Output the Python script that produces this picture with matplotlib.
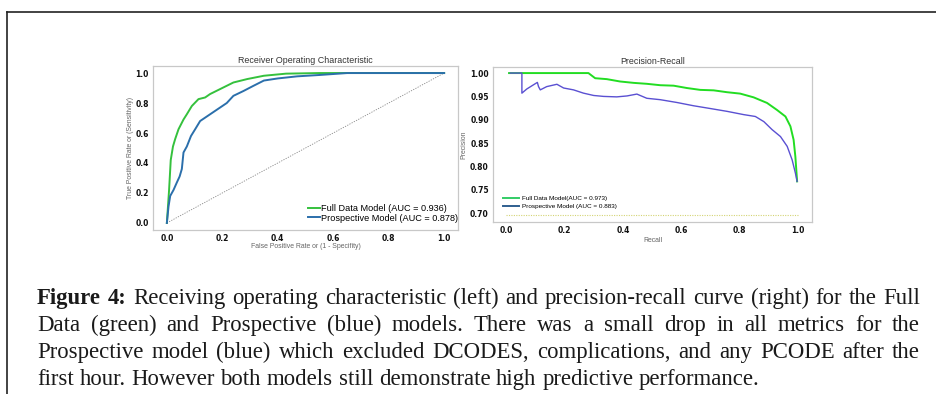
import matplotlib
matplotlib.use("Agg")
import matplotlib.pyplot as plt
from matplotlib.lines import Line2D
from matplotlib import font_manager

# ---------------- data ----------------
roc_full_fpr = [0.0, 0.004, 0.008, 0.014, 0.022, 0.030, 0.042, 0.060, 0.072, 0.090, 0.114,
                0.138, 0.156, 0.192, 0.240, 0.290, 0.350, 0.430, 0.550, 1.0]
roc_full_tpr = [0.0, 0.11, 0.22, 0.42, 0.51, 0.56, 0.625, 0.69, 0.725, 0.78, 0.826,
                0.837, 0.86, 0.893, 0.937, 0.96, 0.982, 0.996, 1.0, 1.0]

roc_prosp_fpr = [0.0, 0.006, 0.012, 0.024, 0.036, 0.046, 0.054, 0.060, 0.072, 0.087, 0.102,
                 0.120, 0.156, 0.192, 0.216, 0.240, 0.276, 0.3125, 0.350, 0.400, 0.470,
                 0.550, 0.650, 1.0]
roc_prosp_tpr = [0.0, 0.11, 0.18, 0.22, 0.27, 0.31, 0.36, 0.47, 0.51, 0.58, 0.625,
                 0.68, 0.725, 0.77, 0.80, 0.848, 0.88, 0.915, 0.95, 0.964, 0.978,
                 0.987, 1.0, 1.0]

pr_full_recall = [0.01, 0.06, 0.282, 0.305, 0.345, 0.39, 0.437, 0.482, 0.528, 0.574, 0.619,
                  0.665, 0.711, 0.757, 0.802, 0.848, 0.894, 0.928, 0.957, 0.974, 0.985,
                  0.991, 0.997]
pr_full_precision = [1.0, 1.0, 1.0, 0.989, 0.987, 0.982, 0.979, 0.977, 0.974, 0.973, 0.968,
                     0.964, 0.963, 0.959, 0.956, 0.948, 0.936, 0.921, 0.907, 0.886, 0.857,
                     0.821, 0.768]

pr_prosp_recall = [0.014, 0.054, 0.054, 0.071, 0.094, 0.107, 0.111, 0.117, 0.139, 0.174,
                   0.197, 0.231, 0.265, 0.30, 0.334, 0.379, 0.414, 0.448, 0.482, 0.528,
                   0.585, 0.642, 0.70, 0.757, 0.814, 0.854, 0.883, 0.911, 0.94, 0.963,
                   0.98, 0.991, 0.997]
pr_prosp_precision = [1.0, 1.0, 0.957, 0.966, 0.975, 0.98, 0.971, 0.964, 0.971, 0.976,
                      0.968, 0.964, 0.957, 0.952, 0.95, 0.949, 0.951, 0.955, 0.946, 0.943,
                      0.937, 0.93, 0.924, 0.918, 0.911, 0.907, 0.896, 0.879, 0.864, 0.843,
                      0.814, 0.786, 0.768]

pr_baseline = 0.695
diag = [0.0, 1.0]

roc_labels = ["Full Data Model (AUC = 0.936)", "Prospective Model (AUC = 0.878)"]
pr_labels = ["Full Data Model(AUC = 0.973)", "Prospective Model (AUC = 0.883)"]
roc_ticks = [0.0, 0.2, 0.4, 0.6, 0.8, 1.0]
pr_xticks = [0.0, 0.2, 0.4, 0.6, 0.8, 1.0]
pr_yticks = [0.70, 0.75, 0.80, 0.85, 0.90, 0.95, 1.00]

roc_title = "Receiver Operating Characteristic"
pr_title = "Precision-Recall"
roc_xlabel = "False Positive Rate or (1 - Specifity)"
roc_ylabel = "True Positive Rate or (Sensitivity)"

caption_lines = [
    "Receiving operating characteristic (left) and precision-recall curve (right) for the Full",
    "Data (green) and Prospective (blue) models. There was a small drop in all metrics for the",
    "Prospective model (blue) which excluded DCODES, complications, and any PCODE after the",
    "first hour. However both models still demonstrate high predictive performance.",
]
caption_bold = "Figure 4:"

# ---------------- figure ----------------
W, H = 937, 394
fig = plt.figure(figsize=(W / 100, H / 100), dpi=100)
fig.patch.set_facecolor("white")
renderer = fig.canvas.get_renderer()

def fx(px):
    return px / W

def fy(py):
    return 1 - py / H

installed = {f.name for f in font_manager.fontManager.ttflist}
narrow = "Liberation Sans Narrow" if "Liberation Sans Narrow" in installed else "Liberation Sans"
sans = [narrow, "DejaVu Sans"]
serif = ["Liberation Serif", "DejaVu Serif"]

def text_width(s, size, family, weight="normal"):
    t = fig.text(0, 0, s, fontsize=size, family=family, weight=weight)
    w = t.get_window_extent(renderer).width
    t.remove()
    return w

def fit_size(s, family, target_px, weight="normal"):
    return 10.0 * target_px / text_width(s, 10.0, family, weight)

spine_c = "#c8c8c8"

def style_axes(ax):
    for s in ax.spines.values():
        s.set_color(spine_c)
        s.set_linewidth(0.9)
    ax.tick_params(length=0, pad=3, labelsize=5.5, colors="#111111")
    for lab in ax.get_xticklabels() + ax.get_yticklabels():
        lab.set_fontweight("bold")
        lab.set_family("DejaVu Sans")

title_fs = fit_size(roc_title, sans, 122) * 1.1
label_fs = fit_size(roc_xlabel, sans, 106) * 1.03
leg1_fs = fit_size(roc_labels[1], sans, 127) * 1.07
leg2_fs = fit_size(pr_labels[1], sans, 87) * 1.1

# ROC axes
ax1 = fig.add_axes([fx(153), fy(230), fx(458) - fx(153), fy(66) - fy(230)])
ax1.plot(diag, diag, color="#888888", lw=0.6, ls=(0, (1.5, 1.5)))
ax1.plot(roc_full_fpr, roc_full_tpr, color="#35c13d", lw=1.4, label=roc_labels[0])
ax1.plot(roc_prosp_fpr, roc_prosp_tpr, color="#2b6fab", lw=1.4, label=roc_labels[1])
ax1.set_xlim(-0.05, 1.05)
ax1.set_ylim(-0.047, 1.047)
ax1.set_xticks(roc_ticks)
ax1.set_yticks(roc_ticks)
ax1.set_xticklabels([f"{v:.1f}" for v in roc_ticks])
ax1.set_yticklabels([f"{v:.1f}" for v in roc_ticks])
style_axes(ax1)
ax1.set_title(roc_title, fontsize=title_fs, family=sans, color="#333333", pad=2)
ax1.set_xlabel(roc_xlabel, fontsize=label_fs, family=sans, color="#666666", labelpad=0)
ax1.set_ylabel(roc_ylabel, fontsize=label_fs, family=sans, color="#666666", labelpad=1)
ax1.legend(loc="lower right", bbox_to_anchor=(1.0, 0.045), frameon=False,
           prop={"family": sans, "size": leg1_fs}, handlelength=1.3, handletextpad=0.1,
           borderaxespad=0, borderpad=0, labelspacing=0.1)

# PR axes
ax2 = fig.add_axes([fx(493), fy(222), fx(812) - fx(493), fy(67) - fy(222)])
ax2.plot(diag, [pr_baseline, pr_baseline], color="#d4d474", lw=0.8, ls=(0, (1, 1.2)))
ax2.plot(pr_full_recall, pr_full_precision, color="#22dd22", lw=1.4)
ax2.plot(pr_prosp_recall, pr_prosp_precision, color="#5a50d2", lw=1.0)
ax2.set_xlim(-0.045, 1.048)
ax2.set_ylim(0.681, 1.013)
ax2.set_xticks(pr_xticks)
ax2.set_yticks(pr_yticks)
ax2.set_xticklabels([f"{v:.1f}" for v in pr_xticks])
ax2.set_yticklabels([f"{v:.2f}" for v in pr_yticks])
style_axes(ax2)
ax2.set_title(pr_title, fontsize=title_fs, family=sans, color="#333333", pad=2)
ax2.set_xlabel("Recall", fontsize=label_fs, family=sans, color="#666666", labelpad=1)
ax2.set_ylabel("Precision", fontsize=label_fs, family=sans, color="#666666", labelpad=2)
handles2 = [Line2D([], [], color="#33cc66", lw=1.4), Line2D([], [], color="#2f5f8f", lw=1.4)]
ax2.legend(handles2, pr_labels, loc="lower left", bbox_to_anchor=(0.03, 0.085),
           frameon=False, prop={"family": sans, "size": leg2_fs}, handlelength=2.6,
           handletextpad=0.4, borderaxespad=0, borderpad=0, labelspacing=0.3)

# outer frame of the figure panel
fig.add_artist(Line2D([fx(7), 1.0], [fy(11.5), fy(11.5)], transform=fig.transFigure,
                      color="#222222", lw=1.2))
fig.add_artist(Line2D([fx(7), fx(7)], [fy(11.5), 0.0], transform=fig.transFigure,
                      color="#222222", lw=1.2))

# ---------------- caption (justified) ----------------
x_left, x_right = 37.0, 920.0
fs = fit_size(caption_lines[3], serif, 757.0 - x_left)

baselines = [304, 331, 358, 385]
space_w = text_width("a b", fs, serif) - text_width("ab", fs, serif)
for i, line in enumerate(caption_lines):
    words = line.split(" ")
    weights = ["normal"] * len(words)
    if i == 0:
        words = caption_bold.split(" ") + words
        weights = ["bold", "bold"] + weights
    widths = [text_width(wd, fs, serif, wt) for wd, wt in zip(words, weights)]
    if i < 3:
        gap = (x_right - x_left - sum(widths)) / (len(words) - 1)
    else:
        gap = space_w
    x = x_left
    for wd, wt, ww in zip(words, weights, widths):
        fig.text(fx(x), fy(baselines[i]), wd, fontsize=fs, family=serif, weight=wt,
                 va="baseline", ha="left", color="#1a1a1a")
        x += ww + gap

fig.savefig("out.png", dpi=100, facecolor="white")
